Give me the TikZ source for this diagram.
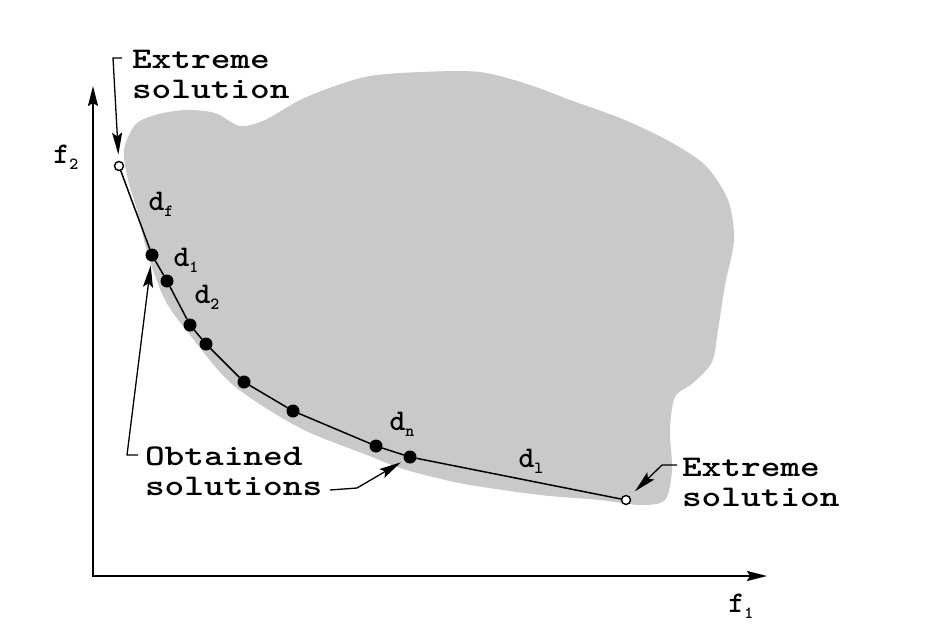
\documentclass[tikz,border=0pt]{standalone}
\usepackage{graphicx}
\usetikzlibrary{arrows.meta}
\newcommand{\ttw}[1]{\scalebox{1.25}[1]{#1}}
\newcommand{\lowsub}[1]{\raisebox{-6pt}{\fontsize{17}{17}\selectfont#1}}
\begin{document}
\begin{tikzpicture}[x=1pt,y=-1pt,inner sep=0pt,outer sep=0pt,line width=1.5pt,
soldot/.style={circle,fill,minimum size=13pt},
extdot/.style={circle,draw,fill=white,line width=1.4pt,minimum size=9pt},
lbl/.style={font=\fontsize{30}{30}\selectfont\ttfamily\bfseries,align=left},
pointer/.style={-{Stealth[length=22pt,width=10pt,inset=4pt]},line width=1.3pt}]
\useasboundingbox (0,0) rectangle (948,640);
% feasible region
\fill[black!21] plot[smooth cycle,tension=0.5] coordinates {(124,150) (135,125) (155,115) (185,110) (215,113) (240,126) (265,120) (300,100) (335,86) (370,76) (420,72) (480,72) (530,85) (570,100) (620,118) (667,140) (705,165) (728,200) (734,240) (725,285) (718,330) (712,362) (693,383) (675,397) (670,430) (672,470) (665,500) (640,505) (600,500) (540,495) (470,485) (433,477) (400,468) (367,455) (300,428) (233,385) (190,335) (165,300) (148,255) (137,210) (128,180)};
% axes
\coordinate (O) at (93,576);
\coordinate (ytip) at (93,86);
\coordinate (xtip) at (767,576);
\draw[{Stealth[length=20pt,width=10pt,inset=3pt]}-{Stealth[length=20pt,width=10pt,inset=3pt]},line width=1.8pt] (ytip) -- (O) -- (xtip);
\node[lbl] (f2) at (66,157) {f\lowsub{2}};
\node[lbl] (f1) at (741,606) {f\lowsub{1}};
% solutions
\node[extdot] (x0) at (119,166) {};
\node[soldot] (p1) at (152,255) {};
\node[soldot] (p2) at (167,281) {};
\node[soldot] (p3) at (190,325) {};
\node[soldot] (p4) at (206,344) {};
\node[soldot] (p5) at (244,382) {};
\node[soldot] (p6) at (293,411) {};
\node[soldot] (p7) at (376,446) {};
\node[soldot] (p8) at (410,457) {};
\node[extdot] (x1) at (626,500) {};
\draw (x0) -- (p1) -- (p2) -- (p3) -- (p4) -- (p5) -- (p6) -- (p7) -- (p8) -- (x1);
\node[lbl] (df) at (161,204) {d\lowsub{f}};
\node[lbl] (d1) at (186,260) {d\lowsub{1}};
\node[lbl] (d2) at (207,297) {d\lowsub{2}};
\node[lbl] (dn) at (402,424) {d\lowsub{n}};
\node[lbl] (dl) at (531,461) {d\lowsub{l}};
% labels
\node[lbl,anchor=north west] (topext) at (132,50) {\ttw{Extreme}\\\ttw{solution}};
\node[lbl,anchor=north west] (obt) at (145,447) {\ttw{Obtained}\\\ttw{solutions}};
\node[lbl,anchor=north west] (botext) at (682,458) {\ttw{Extreme}\\\ttw{solution}};
\draw[pointer,shorten >=7pt] ([shift={(-10,8)}]topext.north west) -- ++(-9,0) -- (x0);
\draw[pointer,shorten >=4pt] ([shift={(-7,8)}]obt.north west) -- ++(-11,0) -- (p1);
\draw[pointer,shorten >=4pt] ([shift={(185,43)}]obt.north west) -- ++(27,-2) -- (p8);
\draw[pointer,shorten >=8pt] ([shift={(-5,7)}]botext.north west) -- ++(-15,0) -- (x1);
\end{tikzpicture}
\end{document}
